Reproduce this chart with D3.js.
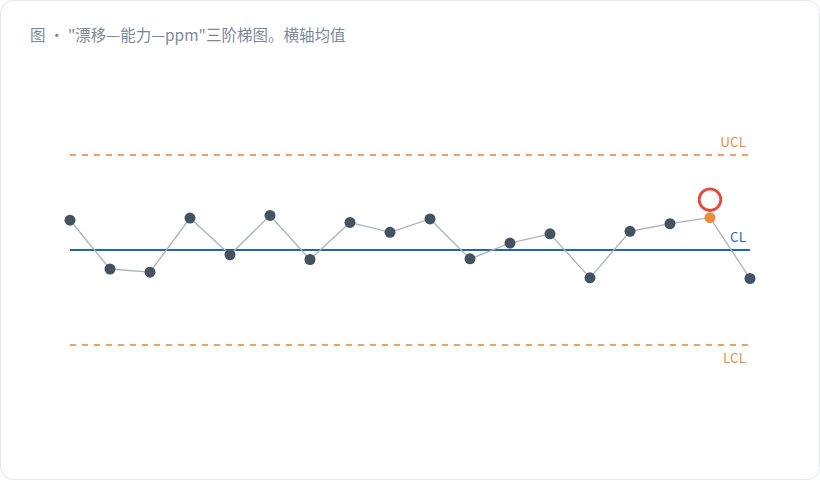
<!DOCTYPE html>
<html>
<head>
<meta charset="utf-8">
<script src="https://cdn.jsdelivr.net/npm/d3@7"></script>
<style>
  body { margin: 0; background: #fff; }
  svg { display: block; }
</style>
</head>
<body>
<script>
// control chart data
var samples = [1, 2, 3, 4, 5, 6, 7, 8, 9, 10, 11, 12, 13, 14, 15, 16, 17, 18];
var values = [59.4, 44.0, 43.0, 60.1, 48.5, 60.9, 47.0, 58.7, 55.6, 59.8, 47.2, 52.2, 55.1, 41.2, 55.9, 58.3, 60.2, 41.0];
var flagged = [17];
var limits = [
  { name: "UCL", value: 80 },
  { name: "CL", value: 50 },
  { name: "LCL", value: 20 }
];
var titleText = "图 · \"漂移—能力—ppm\"三阶梯图。横轴均值";

var w = 820, h = 480;
var font = "'Noto Sans CJK SC', 'Noto Sans', sans-serif";

var svg = d3.select("body").append("svg").attr("width", w).attr("height", h);

svg.append("rect")
  .attr("x", 0.5).attr("y", 0.5)
  .attr("width", w - 1).attr("height", h - 1)
  .attr("rx", 12)
  .attr("fill", "#fff")
  .attr("stroke", "#e3e7ed");

svg.append("text")
  .attr("x", 30).attr("y", 40.5)
  .attr("font-family", font)
  .attr("font-size", 15.5)
  .attr("fill", "#7d8896")
  .text(titleText);

var xScale = d3.scalePoint().domain(samples).range([70, 750]);
var yScale = d3.scaleLinear().domain([20, 80]).range([345, 155]);

// limit lines
limits.forEach(function (l) {
  var isCL = l.name == "CL";
  svg.append("line")
    .attr("x1", 70).attr("x2", 750)
    .attr("y1", yScale(l.value)).attr("y2", yScale(l.value))
    .attr("stroke", isCL ? "#1f67ad" : "#f0a065")
    .attr("stroke-width", 2)
    .attr("stroke-dasharray", isCL ? null : "6,6");
  var ty = l.name == "LCL" ? yScale(l.value) + 17.5 : yScale(l.value) - 8;
  svg.append("text")
    .attr("x", 746).attr("y", ty)
    .attr("text-anchor", "end")
    .attr("font-family", font)
    .attr("font-size", 13.5)
    .attr("fill", isCL ? "#1f67ad" : "#ec8a3f")
    .text(l.name);
});

var line = d3.line()
  .x(function (d, i) { return xScale(samples[i]); })
  .y(function (d) { return yScale(d); });

svg.append("path")
  .datum(values)
  .attr("d", line)
  .attr("fill", "none")
  .attr("stroke", "#aab1b8")
  .attr("stroke-width", 1.3);

svg.selectAll("circle.pt")
  .data(values)
  .enter()
  .append("circle")
  .attr("class", "pt")
  .attr("cx", function (d, i) { return xScale(samples[i]); })
  .attr("cy", function (d) { return yScale(d); })
  .attr("r", 5.5)
  .attr("fill", function (d, i) { return flagged.includes(samples[i]) ? "#ee8a3c" : "#44535f"; });

// ring above flagged points
svg.selectAll("circle.ring")
  .data(flagged)
  .enter()
  .append("circle")
  .attr("class", "ring")
  .attr("cx", function (d) { return xScale(d); })
  .attr("cy", function (d) { return yScale(values[samples.indexOf(d)]) - 18; })
  .attr("r", 10.8)
  .attr("fill", "none")
  .attr("stroke", "#e8473a")
  .attr("stroke-width", 2.8);
</script>
</body>
</html>
